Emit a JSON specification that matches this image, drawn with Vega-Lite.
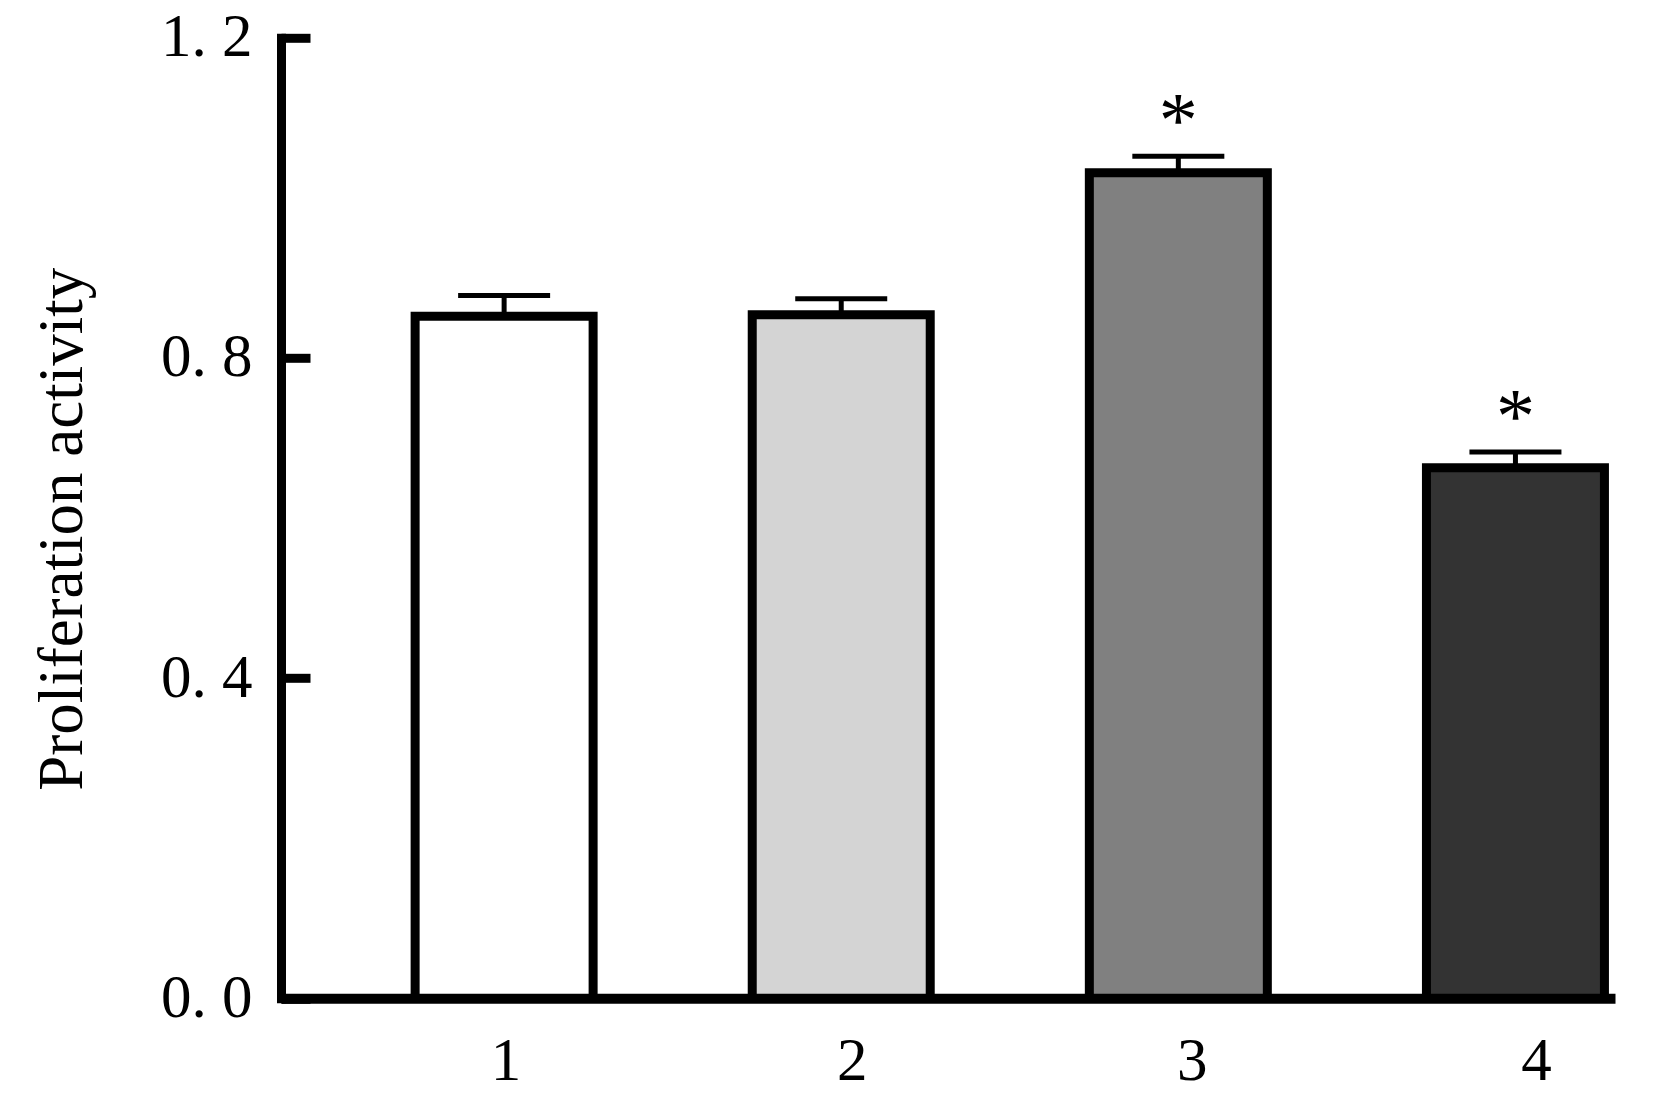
{
  "$schema": "https://vega.github.io/schema/vega-lite/v6.json",
  "autosize": {"type": "none"},
  "width": 1334,
  "height": 960.5,
  "padding": {"left": 281, "top": 37.8, "right": 39, "bottom": 106.7},
  "background": "white",
  "config": {"view": {"stroke": null}},
  "data": {
    "values": [
      {"group": "1", "value": 0.852, "upper": 0.878, "sig": ""},
      {"group": "2", "value": 0.854, "upper": 0.874, "sig": ""},
      {"group": "3", "value": 1.0315, "upper": 1.052, "sig": "*"},
      {"group": "4", "value": 0.6627, "upper": 0.6825, "sig": "*"}
    ]
  },
  "encoding": {
    "x": {
      "field": "group",
      "type": "nominal",
      "sort": null,
      "scale": {"paddingInner": 0.472, "paddingOuter": 0.2146, "align": 0.927},
      "axis": {
        "title": null,
        "labelAngle": 0,
        "ticks": false,
        "domain": true,
        "domainColor": "black",
        "domainWidth": 10,
        "labelFont": "Liberation Serif",
        "labelFontSize": 61,
        "labelColor": "black",
        "labelPadding": 33.5,
        "labelOffset": {
          "condition": [
            {"test": "datum.value == '1'", "value": 2},
            {"test": "datum.value == '2'", "value": 11},
            {"test": "datum.value == '3'", "value": 14}
          ],
          "value": 21
        }
      }
    }
  },
  "layer": [
    {
      "mark": {"type": "bar", "stroke": "black", "strokeWidth": 9, "opacity": 1},
      "encoding": {
        "y": {
          "field": "value",
          "type": "quantitative",
          "scale": {"domain": [0, 1.2], "nice": false},
          "axis": {
            "values": [0, 0.4, 0.8, 1.2],
            "labelExpr": "replace(format(datum.value, '.1f'), '.', '. ')",
            "title": "Proliferation activity",
            "titleFont": "Liberation Serif",
            "titleFontSize": 63,
            "titleFontWeight": "normal",
            "titleColor": "black",
            "titlePadding": 66,
            "titleY": 491,
            "labelFont": "Liberation Serif",
            "labelFontSize": 61,
            "labelColor": "black",
            "labelPadding": 58,
            "grid": false,
            "domainColor": "black",
            "domainWidth": 9,
            "domainCap": "square",
            "tickColor": "black",
            "tickWidth": 9,
            "tickSize": -29
          }
        },
        "fill": {
          "field": "group",
          "type": "nominal",
          "scale": {"domain": ["1", "2", "3", "4"], "range": ["#ffffff", "#d4d4d4", "#808080", "#333333"]},
          "legend": null
        }
      }
    },
    {
      "mark": {"type": "rule", "color": "black", "strokeWidth": 5, "opacity": 1},
      "encoding": {
        "y": {"field": "value", "type": "quantitative"},
        "y2": {"field": "upper"}
      }
    },
    {
      "mark": {"type": "tick", "color": "black", "thickness": 5, "size": 92, "opacity": 1},
      "encoding": {
        "y": {"field": "upper", "type": "quantitative"}
      }
    },
    {
      "mark": {"type": "text", "font": "Liberation Serif", "fontSize": 78, "color": "black", "baseline": "alphabetic", "dy": -10},
      "encoding": {
        "y": {"field": "upper", "type": "quantitative"},
        "text": {"field": "sig"}
      }
    }
  ]
}
